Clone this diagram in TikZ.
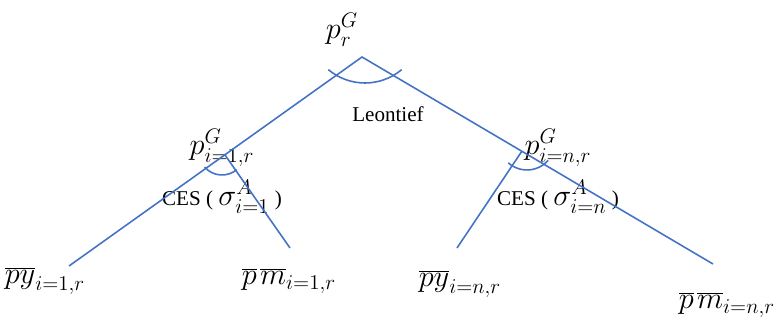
\documentclass[tikz,border=0pt]{standalone}
\usepackage{fontspec}
\setmainfont{Liberation Serif}
\definecolor{treeblue}{RGB}{68,114,196}

\begin{document}
\begin{tikzpicture}[x=0.02cm,y=-0.02cm,
    branch/.style={draw=treeblue,line width=0.9pt},
    price/.style={inner sep=0pt,font=\fontsize{17}{19}\selectfont},
    func/.style={inner sep=0pt,font=\fontsize{12}{14}\selectfont}]
    \useasboundingbox (0,0) rectangle (775,320);
    % tree points
    \coordinate (top) at (362,57);
    \coordinate (jl) at (225,155);
    \coordinate (jr) at (522,151);
    \coordinate (ly) at (69,266);
    \coordinate (lm) at (290,248);
    \coordinate (ry) at (457,248);
    \coordinate (rm) at (713,264);
    % arc centres
    \coordinate (ctop) at (365,26);
    \coordinate (cl) at (222,152);
    \coordinate (cr) at (527,142);
    % labels
    \node[price] (pr) at (342,30) {$p_r^G$};
    \node[func] (leon) at (388,114) {Leontief};
    \node[price] (pl) at (222,148) {$p_{i=1,r}^G$};
    \node[price] (pn) at (558,148) {$p_{i=n,r}^G$};
    \node[func] (cesl) at (222,197) {CES ( {\fontsize{17}{19}\selectfont$\sigma_{i=1}^A$} )};
    \node[func] (cesr) at (558,197) {CES ( {\fontsize{17}{19}\selectfont$\sigma_{i=n}^A$} )};
    \node[price] (pyl) at (45,281) {$\overline{py}_{i=1,r}$};
    \node[price] (pml) at (289,281) {$\overline{p}\mkern2mu\overline{m}_{i=1,r}$};
    \node[price] (pyr) at (460,284) {$\overline{py}_{i=n,r}$};
    \node[price] (pmr) at (727,305) {$\overline{p}\mkern2mu\overline{m}_{i=n,r}$};
    % branches
    \draw[branch] (ly) -- (top) -- (rm);
    \draw[branch] (jl) -- (lm);
    \draw[branch] (jr) -- (ry);
    % elasticity arcs
    \draw[branch] ([shift={(130:57)}]ctop) arc[start angle=130,end angle=50,radius=57];
    \draw[branch] ([shift={(139:23)}]cl) arc[start angle=139,end angle=50,radius=23];
    \draw[branch] ([shift={(132:28)}]cr) arc[start angle=132,end angle=41,radius=28];
\end{tikzpicture}
\end{document}
